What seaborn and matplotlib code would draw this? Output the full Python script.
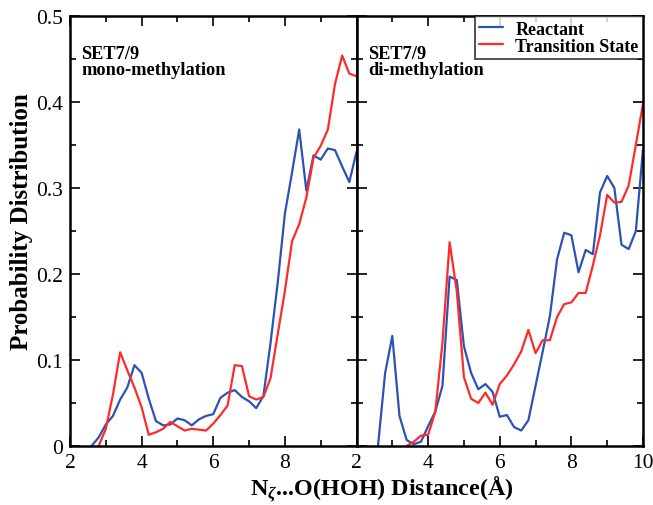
import numpy as np
import pandas as pd
import matplotlib
matplotlib.use("Agg")
import matplotlib.pyplot as plt
from matplotlib.ticker import MultipleLocator
import seaborn as sns

# Distances (Å) and probability distributions for each system/state
dist_mono_react = [2.6, 2.8, 3.0, 3.2, 3.4, 3.6, 3.8, 4.0, 4.2, 4.4, 4.6, 4.8, 5.0, 5.2, 5.4, 5.6,
                   5.8, 6.0, 6.2, 6.4, 6.6, 6.8, 7.0, 7.2, 7.4, 7.6, 7.8, 8.0, 8.2, 8.4, 8.6, 8.8,
                   9.0, 9.2, 9.4, 9.6, 9.8, 10.0]
mono_react = [0.0, 0.010, 0.025, 0.035, 0.054, 0.068, 0.094, 0.085, 0.055, 0.029, 0.024, 0.025,
              0.032, 0.030, 0.024, 0.031, 0.035, 0.037, 0.056, 0.062, 0.065, 0.057, 0.052, 0.044,
              0.058, 0.120, 0.190, 0.270, 0.318, 0.368, 0.297, 0.338, 0.333, 0.346, 0.344, 0.325,
              0.307, 0.342]

dist_mono_ts = [2.8, 3.0, 3.2, 3.4, 3.6, 3.8, 4.0, 4.2, 4.4, 4.6, 4.8, 5.0, 5.2, 5.4, 5.6, 5.8,
                6.0, 6.2, 6.4, 6.6, 6.8, 7.0, 7.2, 7.4, 7.6, 7.8, 8.0, 8.2, 8.4, 8.6, 8.8, 9.0,
                9.2, 9.4, 9.6, 9.8, 10.0]
mono_ts = [0.0, 0.020, 0.060, 0.109, 0.088, 0.068, 0.045, 0.013, 0.016, 0.020, 0.028, 0.023,
           0.018, 0.020, 0.019, 0.018, 0.026, 0.036, 0.047, 0.094, 0.093, 0.058, 0.054, 0.057,
           0.079, 0.130, 0.180, 0.238, 0.258, 0.289, 0.335, 0.349, 0.368, 0.421, 0.454, 0.433,
           0.430]

dist_di_react = [2.6, 2.8, 3.0, 3.2, 3.4, 3.6, 3.8, 4.0, 4.2, 4.4, 4.6, 4.8, 5.0, 5.2, 5.4, 5.6,
                 5.8, 6.0, 6.2, 6.4, 6.6, 6.8, 7.0, 7.2, 7.4, 7.6, 7.8, 8.0, 8.2, 8.4, 8.6, 8.8,
                 9.0, 9.2, 9.4, 9.6, 9.8, 10.0]
di_react = [0.0, 0.085, 0.128, 0.035, 0.007, 0.002, 0.005, 0.023, 0.040, 0.070, 0.197, 0.193,
            0.116, 0.085, 0.066, 0.072, 0.063, 0.034, 0.036, 0.022, 0.018, 0.030, 0.070, 0.110,
            0.151, 0.217, 0.248, 0.245, 0.202, 0.228, 0.223, 0.295, 0.314, 0.300, 0.234, 0.229,
            0.250, 0.345]

dist_di_ts = [3.4, 3.6, 3.8, 4.0, 4.2, 4.4, 4.6, 4.8, 5.0, 5.2, 5.4, 5.6, 5.8, 6.0, 6.2, 6.4,
              6.6, 6.8, 7.0, 7.2, 7.4, 7.6, 7.8, 8.0, 8.2, 8.4, 8.6, 8.8, 9.0, 9.2, 9.4, 9.6,
              9.8, 10.0]
di_ts = [0.0, 0.005, 0.012, 0.013, 0.040, 0.120, 0.237, 0.180, 0.080, 0.055, 0.050, 0.062,
         0.048, 0.072, 0.082, 0.095, 0.110, 0.135, 0.108, 0.123, 0.123, 0.150, 0.165, 0.167,
         0.178, 0.178, 0.210, 0.245, 0.292, 0.283, 0.284, 0.303, 0.350, 0.398]

states = ["Reactant", "Transition State"]
panel_titles = ["SET7/9\nmono-methylation", "SET7/9\ndi-methylation"]
x_ticks_left = [2, 4, 6, 8]
x_ticks_right = [2, 4, 6, 8, 10]
y_ticks = [0, 0.1, 0.2, 0.3, 0.4, 0.5]
y_tick_labels = ["0", "0.1", "0.2", "0.3", "0.4", "0.5"]

sns.set_theme(style="ticks")
plt.rcParams["font.family"] = ["Liberation Serif", "DejaVu Serif"]
plt.rcParams["text.color"] = "black"
plt.rcParams["axes.labelcolor"] = "black"
plt.rcParams["xtick.color"] = "black"
plt.rcParams["ytick.color"] = "black"
plt.rcParams["mathtext.fontset"] = "custom"
plt.rcParams["mathtext.it"] = "Liberation Serif:italic:bold"
plt.rcParams["mathtext.rm"] = "Liberation Serif:bold"


def frame(dist_r, val_r, dist_t, val_t):
    return pd.concat([
        pd.DataFrame({"dist": dist_r, "prob": val_r, "state": states[0]}),
        pd.DataFrame({"dist": dist_t, "prob": val_t, "state": states[1]}),
    ], ignore_index=True)


panels = [
    frame(dist_mono_react, mono_react, dist_mono_ts, mono_ts),
    frame(dist_di_react, di_react, dist_di_ts, di_ts),
]
palette = {"Reactant": "#2c52b4", "Transition State": "#ff2a2a"}

fig = plt.figure(figsize=(6.53, 5.06), dpi=100)
left, right, bottom, top = 70 / 653, 643 / 653, 1 - 447 / 506, 1 - 17 / 506
w = (right - left) / 2
axes = [fig.add_axes([left, bottom, w, top - bottom]),
        fig.add_axes([left + w, bottom, w, top - bottom])]

for i, (ax, df) in enumerate(zip(axes, panels)):
    sns.lineplot(data=df, x="dist", y="prob", hue="state", palette=palette,
                 linewidth=1.6, ax=ax, legend=(i == 1), estimator=None, sort=False)
    ax.set_xlim(2, 10)
    ax.set_ylim(0, 0.5)
    ax.xaxis.set_minor_locator(MultipleLocator(1))
    ax.yaxis.set_minor_locator(MultipleLocator(0.05))
    ax.set_yticks(y_ticks)
    ax.tick_params(which="both", direction="in", top=True, right=True, width=1.2,
                   labelsize=15.5, colors="black")
    ax.tick_params(which="major", length=7, pad=5)
    ax.tick_params(which="minor", length=4)
    for s in ax.spines.values():
        s.set_linewidth(1.8)
        s.set_color("black")
    ax.set_xlabel("")
    ax.set_ylabel("")
    ax.text(0.04, 0.933, panel_titles[i], transform=ax.transAxes, ha="left", va="top",
            fontsize=13.2, fontweight="bold", linespacing=0.95)

axes[0].set_xticks(x_ticks_left)
axes[0].set_xticklabels([str(t) for t in x_ticks_left])
axes[0].set_yticklabels(y_tick_labels)
axes[1].set_xticks(x_ticks_right)
axes[1].set_xticklabels([str(t) for t in x_ticks_right])
axes[1].set_yticklabels([])
axes[0].set_ylabel("Probability Distribution", fontsize=18, fontweight="bold")
axes[0].yaxis.set_label_coords(-0.13, 0.525)

fig.text(382 / 653, 0.022, r"N$_{\zeta}$...O(HOH) Distance(Å)", ha="center",
         va="baseline", fontsize=17.4, fontweight="bold")

leg = axes[1].legend(loc="upper right", title=None, fontsize=13, frameon=True,
                     fancybox=False, borderaxespad=0.0, handlelength=1.3,
                     handletextpad=0.7, borderpad=0.25, labelspacing=0.0)
leg.get_frame().set_edgecolor("black")
leg.get_frame().set_linewidth(1.2)
for t in leg.get_texts():
    t.set_fontweight("bold")

fig.savefig("out.png", dpi=100)
